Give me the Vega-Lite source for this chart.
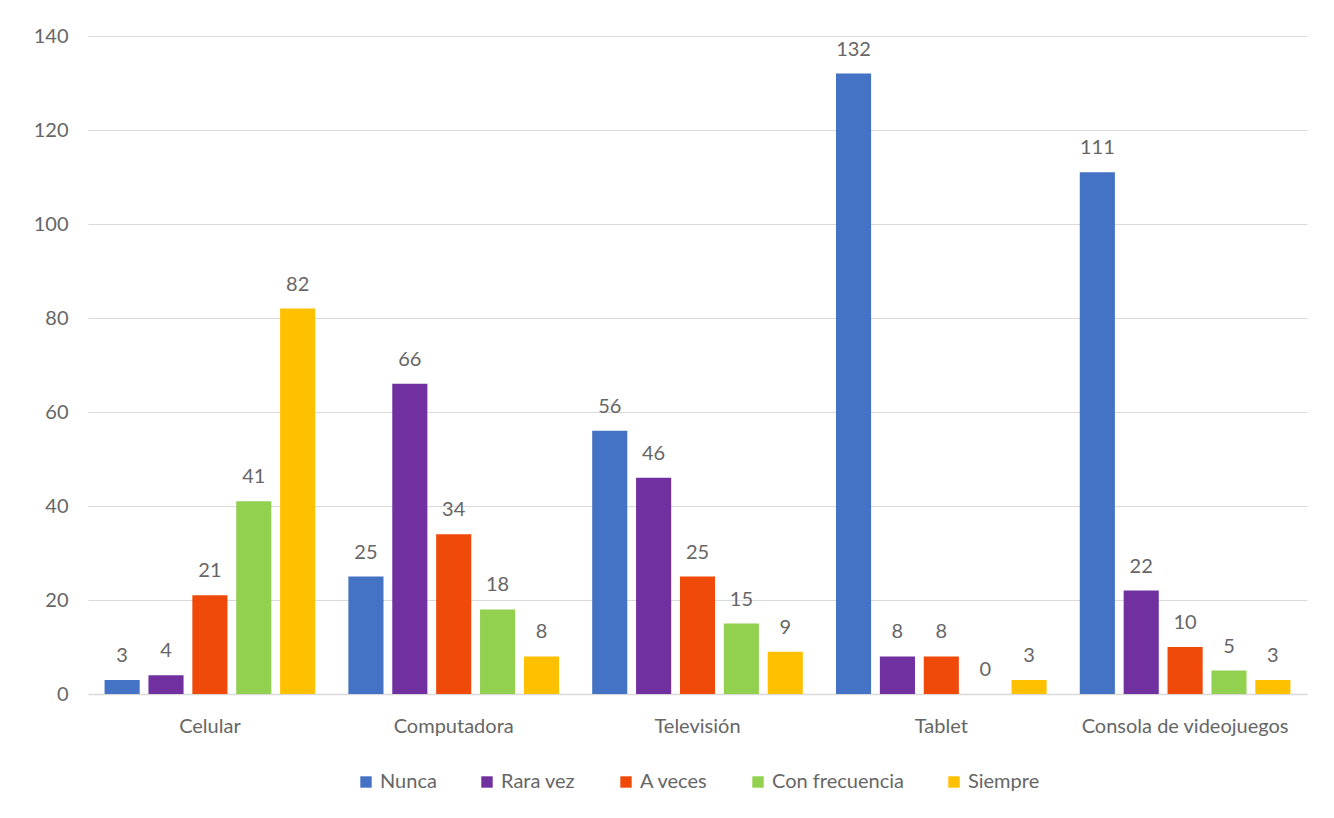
{
  "$schema": "https://vega.github.io/schema/vega-lite/v6.json",
  "autosize": {"type": "none"},
  "width": 1219,
  "height": 658,
  "padding": {"left": 88, "top": 36, "right": 27, "bottom": 124},
  "background": "white",
  "config": {
    "font": "Lato",
    "view": {"stroke": null},
    "legend": {"layout": {"bottom": {"anchor": "middle"}}}
  },
  "data": {
    "values": [
      {"dispositivo": "Celular", "frecuencia": "Nunca", "valor": 3},
      {"dispositivo": "Celular", "frecuencia": "Rara vez", "valor": 4},
      {"dispositivo": "Celular", "frecuencia": "A veces", "valor": 21},
      {"dispositivo": "Celular", "frecuencia": "Con frecuencia", "valor": 41},
      {"dispositivo": "Celular", "frecuencia": "Siempre", "valor": 82},
      {"dispositivo": "Computadora", "frecuencia": "Nunca", "valor": 25},
      {"dispositivo": "Computadora", "frecuencia": "Rara vez", "valor": 66},
      {"dispositivo": "Computadora", "frecuencia": "A veces", "valor": 34},
      {"dispositivo": "Computadora", "frecuencia": "Con frecuencia", "valor": 18},
      {"dispositivo": "Computadora", "frecuencia": "Siempre", "valor": 8},
      {"dispositivo": "Televisión", "frecuencia": "Nunca", "valor": 56},
      {"dispositivo": "Televisión", "frecuencia": "Rara vez", "valor": 46},
      {"dispositivo": "Televisión", "frecuencia": "A veces", "valor": 25},
      {"dispositivo": "Televisión", "frecuencia": "Con frecuencia", "valor": 15},
      {"dispositivo": "Televisión", "frecuencia": "Siempre", "valor": 9},
      {"dispositivo": "Tablet", "frecuencia": "Nunca", "valor": 132},
      {"dispositivo": "Tablet", "frecuencia": "Rara vez", "valor": 8},
      {"dispositivo": "Tablet", "frecuencia": "A veces", "valor": 8},
      {"dispositivo": "Tablet", "frecuencia": "Con frecuencia", "valor": 0},
      {"dispositivo": "Tablet", "frecuencia": "Siempre", "valor": 3},
      {"dispositivo": "Consola de videojuegos", "frecuencia": "Nunca", "valor": 111},
      {"dispositivo": "Consola de videojuegos", "frecuencia": "Rara vez", "valor": 22},
      {"dispositivo": "Consola de videojuegos", "frecuencia": "A veces", "valor": 10},
      {"dispositivo": "Consola de videojuegos", "frecuencia": "Con frecuencia", "valor": 5},
      {"dispositivo": "Consola de videojuegos", "frecuencia": "Siempre", "valor": 3}
    ]
  },
  "encoding": {
    "x": {
      "field": "dispositivo",
      "type": "nominal",
      "sort": ["Celular", "Computadora", "Televisión", "Tablet", "Consola de videojuegos"],
      "scale": {"paddingInner": 0.1, "paddingOuter": 0.05},
      "axis": {
        "title": null,
        "labelAngle": 0,
        "labelFontSize": 20,
        "labelLimit": 0,
        "labelColor": "#666666",
        "labelPadding": 22,
        "ticks": false,
        "domainColor": "#D9D9D9",
        "domainWidth": 1.5
      }
    },
    "xOffset": {
      "field": "frecuencia",
      "type": "nominal",
      "sort": ["Nunca", "Rara vez", "A veces", "Con frecuencia", "Siempre"],
      "scale": {"paddingInner": 0.2, "paddingOuter": 0.1}
    },
    "y": {
      "field": "valor",
      "type": "quantitative",
      "scale": {"domain": [0, 140]},
      "axis": {
        "title": null,
        "values": [0, 20, 40, 60, 80, 100, 120, 140],
        "labelFontSize": 20,
        "labelColor": "#666666",
        "labelPadding": 20,
        "ticks": false,
        "domain": false,
        "gridColor": "#D9D9D9",
        "gridWidth": 1.2
      }
    }
  },
  "layer": [
    {
      "mark": {"type": "bar"},
      "encoding": {
        "color": {
          "field": "frecuencia",
          "type": "nominal",
          "sort": ["Nunca", "Rara vez", "A veces", "Con frecuencia", "Siempre"],
          "scale": {
            "domain": ["Nunca", "Rara vez", "A veces", "Con frecuencia", "Siempre"],
            "range": ["#4472C4", "#7030A0", "#F04A0A", "#92D050", "#FFC000"]
          },
          "legend": {
            "title": null,
            "orient": "bottom",
            "direction": "horizontal",
            "symbolType": "square",
            "symbolSize": 130,
            "symbolStrokeWidth": 0,
            "labelFontSize": 20,
            "labelColor": "#666666",
            "columnPadding": 40,
            "labelOffset": 4,
            "offset": 36
          }
        }
      }
    },
    {
      "mark": {"type": "text", "baseline": "bottom", "dy": -14, "fontSize": 20, "color": "#666666"},
      "encoding": {
        "text": {"field": "valor", "type": "quantitative"}
      }
    }
  ]
}
